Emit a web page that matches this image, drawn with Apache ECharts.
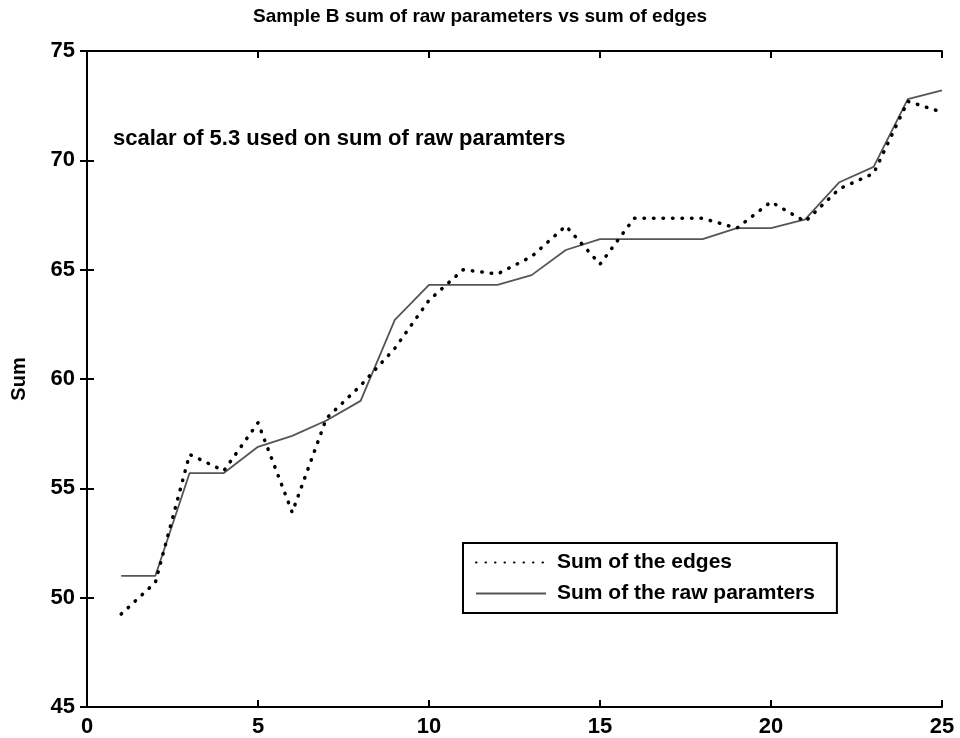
<!DOCTYPE html>
<html>
<head>
<meta charset="utf-8">
<script src="https://cdn.jsdelivr.net/npm/echarts@6/dist/echarts.min.js"></script>
<style>html,body{margin:0;padding:0;background:#fff;}#c{width:960px;height:738px;}</style>
</head>
<body>
<div id="c"></div>
<script>
const titleText = 'Sample B sum of raw parameters vs sum of edges';
const noteText = 'scalar of 5.3 used on sum of raw paramters';
const yName = 'Sum';
const seriesNames = ['Sum of the edges', 'Sum of the raw paramters'];
const xValues = [1,2,3,4,5,6,7,8,9,10,11,12,13,14,15,16,17,18,19,20,21,22,23,24,25];
const edges = [49.25,50.7,56.55,55.8,58.0,53.9,58.2,59.7,61.4,63.6,65.0,64.8,65.6,67.0,65.25,67.35,67.35,67.35,66.9,68.1,67.2,68.7,69.4,72.7,72.2];
const rawParams = [51.0,51.0,55.7,55.7,56.9,57.4,58.1,59.0,62.7,64.3,64.3,64.3,64.75,65.9,66.4,66.4,66.4,66.4,66.9,66.9,67.3,69.0,69.7,72.8,73.2];
const xTicks = {min:0, max:25, interval:5};
const yTicks = {min:45, max:75, interval:5};

const FONT = '"Liberation Sans", Arial, sans-serif';
const chart = echarts.init(document.getElementById('c'), null, {renderer:'canvas'});
const axisLine = {show:true, lineStyle:{color:'#000', width:2}};
const tick = {show:true, inside:true, length:7, lineStyle:{color:'#000', width:2}};
chart.setOption({
  animation:false,
  backgroundColor:'#fff',
  title:{text:titleText, left:'center', top:2, textStyle:{fontFamily:FONT, fontSize:19, fontWeight:'bold', color:'#000'}},
  graphic:[{type:'text', left:113, top:128, style:{text:noteText, font:'bold 22px ' + FONT, fill:'#000'}}],
  grid:{left:87, right:18, top:51, bottom:30, containLabel:false},
  legend:{
    orient:'vertical', left:463, top:543, padding:[9,22,9,12], itemGap:10,
    itemWidth:70, itemHeight:14, borderColor:'#000', borderWidth:2, backgroundColor:'#fff',
    itemStyle:{color:'rgba(0,0,0,0)', borderColor:'rgba(0,0,0,0)', borderWidth:0},
    textStyle:{fontFamily:FONT, fontSize:21, fontWeight:'bold', color:'#000', padding:[0,0,0,6]},
    data:seriesNames
  },
  xAxis:[
    {type:'value', min:xTicks.min, max:xTicks.max, interval:xTicks.interval, position:'bottom',
     axisLine:axisLine, axisTick:tick, splitLine:{show:false},
     axisLabel:{margin:9, fontFamily:FONT, fontSize:22, fontWeight:'bold', color:'#000'}},
    {type:'value', min:xTicks.min, max:xTicks.max, interval:xTicks.interval, position:'top',
     axisLine:axisLine, axisTick:tick, splitLine:{show:false}, axisLabel:{show:false}}
  ],
  yAxis:[
    {type:'value', min:yTicks.min, max:yTicks.max, interval:yTicks.interval, position:'left',
     name:yName, nameLocation:'middle', nameGap:58, nameTextStyle:{fontFamily:FONT, fontSize:20, fontWeight:'bold', color:'#000'},
     axisLine:axisLine, axisTick:tick, splitLine:{show:false},
     axisLabel:{margin:12, fontFamily:FONT, fontSize:22, fontWeight:'bold', color:'#000'}},
    {type:'value', min:yTicks.min, max:yTicks.max, interval:yTicks.interval, position:'right',
     axisLine:axisLine, axisTick:tick, splitLine:{show:false}, axisLabel:{show:false}}
  ],
  series:[
    {name:seriesNames[0], type:'line', symbol:'none', data:xValues.map((x,i)=>[x, edges[i]]),
     lineStyle:{color:'#000', width:3.5, type:[0.5,9], cap:'round'}, itemStyle:{color:'#000'}, z:3},
    {name:seriesNames[1], type:'line', symbol:'none', data:xValues.map((x,i)=>[x, rawParams[i]]),
     lineStyle:{color:'#555', width:1.8}, itemStyle:{color:'#555'}, z:2}
  ]
});
</script>
</body>
</html>
